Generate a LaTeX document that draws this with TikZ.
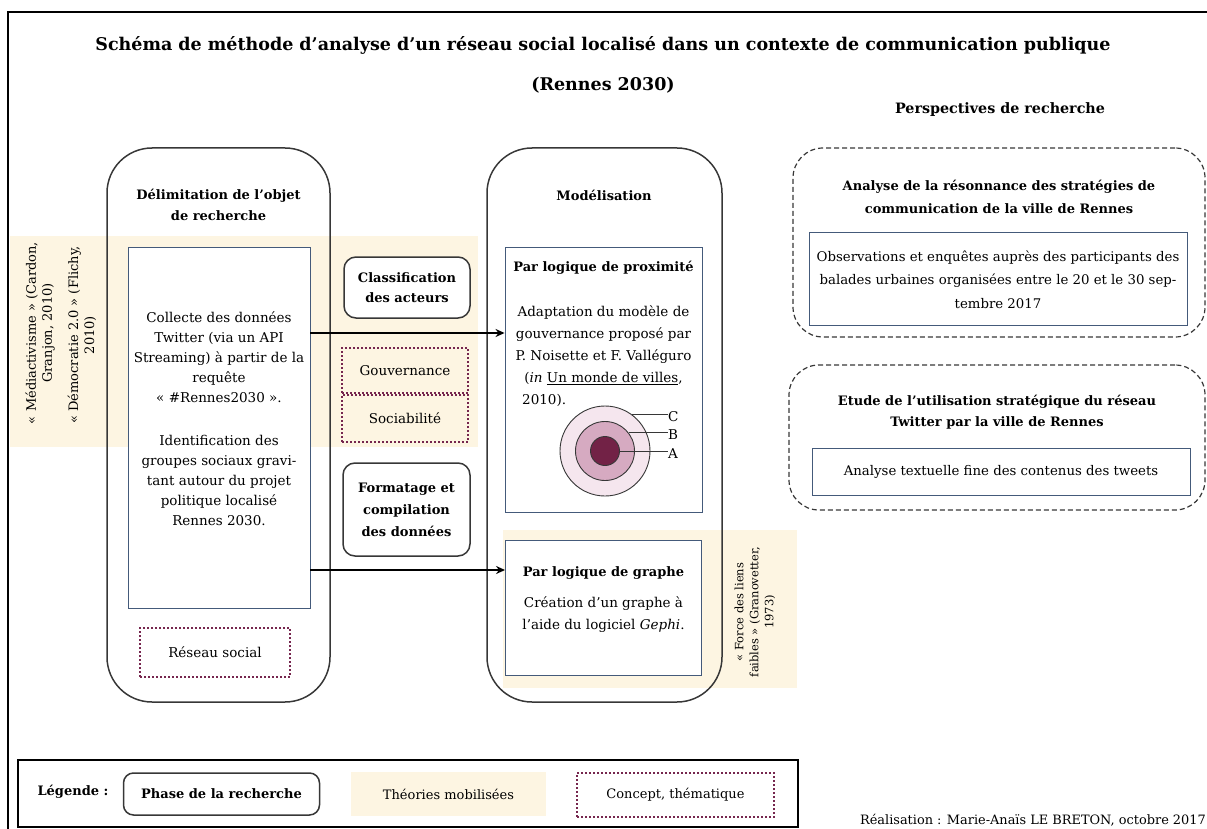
\documentclass[tikz,border=0pt]{standalone}
\usepackage{fontspec}
\setmainfont{DejaVu Serif}
\usetikzlibrary{arrows.meta}
\definecolor{beige}{RGB}{253,245,226}
\definecolor{maroonc}{RGB}{118,38,78}
\definecolor{bluegray}{RGB}{68,90,122}
\definecolor{boxgray}{RGB}{55,55,55}
\definecolor{ringC}{RGB}{245,230,238}
\definecolor{ringB}{RGB}{214,170,193}
\definecolor{ringA}{RGB}{114,34,70}
\tikzset{
  phase/.style={draw=boxgray, line width=1.5pt, rounded corners=#1},
  phase/.default=12pt,
  innerbox/.style={draw=bluegray, line width=0.9pt, fill=white},
  concept/.style={draw=maroonc, line width=2pt, dash pattern=on 1.8pt off 2.2pt},
  theory/.style={fill=beige, draw=none},
  persp/.style={draw=boxgray, line width=1.2pt, dash pattern=on 5pt off 3pt, rounded corners=30pt},
  body/.style={font=\fontsize{13.5}{20}\selectfont, align=center, inner sep=0pt},
  head/.style={font=\bfseries\fontsize{13}{21}\selectfont, align=center, inner sep=0pt},
  theotext/.style={font=\fontsize{13}{16}\selectfont, align=center, rotate=90, inner sep=0pt},
  flow/.style={line width=2.2pt, -{Stealth[length=9pt,width=8pt]}},
  ring/.style={circle, draw=boxgray, line width=0.9pt, inner sep=0pt},
}
\begin{document}
\begin{tikzpicture}[x=1pt,y=-1pt]
\useasboundingbox (0,0) rectangle (1207,829);
% frame
\draw[line width=2pt] (8,829) -- (8,12) -- (1207,12);
% title
\node[font=\bfseries\fontsize{17.5}{20}\selectfont, inner sep=0pt] (title) at (603,45)
  {Schéma de méthode d’analyse d’un réseau social localisé dans un contexte de communication publique};
\node[font=\bfseries\fontsize{17.5}{20}\selectfont, inner sep=0pt] (title2) at (603,85) {(Rennes 2030)};

% theory bands
\node[theory, minimum width=468pt, minimum height=211pt] (th1) at (244,341.5) {};
\node[theory, minimum width=294pt, minimum height=158pt] (th2) at (650,609) {};
\node[theotext] (t1a) at (40,333) {« Médiactivisme » (Cardon,\\ Granjon, 2010)};
\node[theotext] (t1b) at (82,335) {« Démocratie 2.0 » (Flichy,\\ 2010)};
\node[theotext, font=\fontsize{11.5}{15}\selectfont] (t2) at (755,612) {« Force des liens\\ faibles » (Granovetter,\\ 1973)};

% phase boxes
\node[phase=45pt, minimum width=223pt, minimum height=554pt] (delim) at (218.5,425) {};
\node[head] (delimt) at (218.5,205) {Délimitation de l'objet\\ de recherche};
\node[phase=45pt, minimum width=235pt, minimum height=554pt] (model) at (604.5,425) {};
\node[head] (modelt) at (604,195) {Modélisation};

% collecte
\node[innerbox, minimum width=182pt, minimum height=361pt] (collecte) at (219,427.5) {};
\node[body] (collt) at (219,419) {Collecte des données\\ Twitter (via un API\\ Streaming) à partir de la\\ requête\\ « \#Rennes2030 ».\\[23pt]
Identification des\\ groupes sociaux gravi-\\ tant autour du projet\\ politique localisé\\ Rennes 2030.};
\node[concept, minimum width=150pt, minimum height=49pt, body] (reseau) at (215,652.5) {Réseau social};

% middle column
\node[phase=12pt, fill=white, minimum width=126pt, minimum height=61pt, head, font=\bfseries\fontsize{13}{20}\selectfont] (classif) at (407,287.5) {Classification\\ des acteurs};
\node[concept, minimum width=126pt, minimum height=45pt, body] (gouv) at (405,370.5) {Gouvernance};
\node[concept, minimum width=126pt, minimum height=47pt, body] (socia) at (405,418.5) {Sociabilité};
\node[phase=12pt, fill=white, minimum width=127pt, minimum height=93pt, head, font=\bfseries\fontsize{13}{22}\selectfont] (format) at (406.5,509.5) {Formatage et\\ compilation\\ des données};

% proximity box
\node[innerbox, minimum width=197pt, minimum height=265pt] (prox) at (603.5,379.5) {};
\node[head] (proxt) at (603.5,268) {Par logique de proximité};
\node[body, font=\fontsize{13.5}{22}\selectfont] (proxb) at (603.5,345.5) {Adaptation du modèle de\\ gouvernance proposé par\\ P. Noisette et F. Valléguro\\ (\textit{in} \underline{Un monde de villes},};
\node[body, anchor=west] (proxy) at (522,400) {2010).};
\node[ring, fill=ringC, minimum size=90pt] (cC) at (605,451) {};
\node[ring, fill=ringB, minimum size=59pt] (cB) at (605,451) {};
\node[ring, fill=ringA, minimum size=29pt] (cA) at (605,451) {};
\node[body, anchor=west] (lC) at (668,417) {C};
\node[body, anchor=west] (lB) at (668,435) {B};
\node[body, anchor=west] (lA) at (668,454) {A};
\draw[line width=0.9pt, boxgray] (cC.53) -- (cC.53 -| lC.west);
\draw[line width=0.9pt, boxgray] (cB.38) -- (cB.38 -| lB.west);
\draw[line width=0.9pt, boxgray] (cA.east) -- (cA.east -| lA.west);

% graph box
\node[innerbox, minimum width=196pt, minimum height=135pt] (graphe) at (603.5,607.5) {};
\node[head] (grapht) at (603.5,573) {Par logique de graphe};
\node[body, font=\fontsize{13.5}{22}\selectfont] (grapheb) at (603.5,615) {Création d’un graphe à\\ l’aide du logiciel \textit{Gephi}.};

% arrows
\coordinate (a1) at (0,333);
\coordinate (a2) at (0,570);
\draw[flow] (collecte.east |- a1) -- (prox.west |- a1);
\draw[flow] (collecte.east |- a2) -- (graphe.west |- a2);

% perspectives
\node[head, font=\bfseries\fontsize{14.3}{21}\selectfont] (persph) at (1000,110) {Perspectives de recherche};
\node[persp, minimum width=412pt, minimum height=189pt] (p1) at (999,242.5) {};
\node[head, font=\bfseries\fontsize{13}{23}\selectfont] (p1t) at (999,196.5) {Analyse de la résonnance des stratégies de\\ communication de la ville de Rennes};
\node[innerbox, minimum width=378pt, minimum height=93pt] (p1i) at (998,278.5) {};
\node[body, font=\fontsize{13.3}{23.5}\selectfont] (p1b) at (998,279.5) {Observations et enquêtes auprès des participants des\\ balades urbaines organisées entre le 20 et le 30 sep-\\ tembre 2017};
\node[persp, minimum width=416pt, minimum height=145pt] (p2) at (997,437.5) {};
\node[head] (p2t) at (997,412.5) {Etude de l'utilisation stratégique du réseau\\ Twitter par la ville de Rennes};
\node[innerbox, minimum width=378pt, minimum height=47pt, body, font=\fontsize{13.3}{20}\selectfont] (p2i) at (1001,471.5) {Analyse textuelle fine des contenus des tweets};

% legend
\node[draw=black, line width=1.3pt, minimum width=780pt, minimum height=67pt] (legend) at (408,793.5) {};
\node[head, font=\bfseries\fontsize{13}{16}\selectfont] (legt) at (73,792) {Légende :};
\node[phase=10pt, minimum width=196pt, minimum height=42pt, head, font=\bfseries\fontsize{13}{16}\selectfont] (legphase) at (221.5,794) {Phase de la recherche};
\node[theory, minimum width=195pt, minimum height=44pt, body, font=\fontsize{13}{16}\selectfont] (legtheo) at (448.5,794) {Théories mobilisées};
\node[concept, minimum width=197pt, minimum height=44pt, body, font=\fontsize{13}{16}\selectfont] (legconc) at (675.5,795) {Concept, thématique};
\node[body, anchor=east, font=\fontsize{12.9}{16}\selectfont] (real) at (1206,820) {Réalisation : Marie-Anaïs LE BRETON, octobre 2017};
\end{tikzpicture}
\end{document}
